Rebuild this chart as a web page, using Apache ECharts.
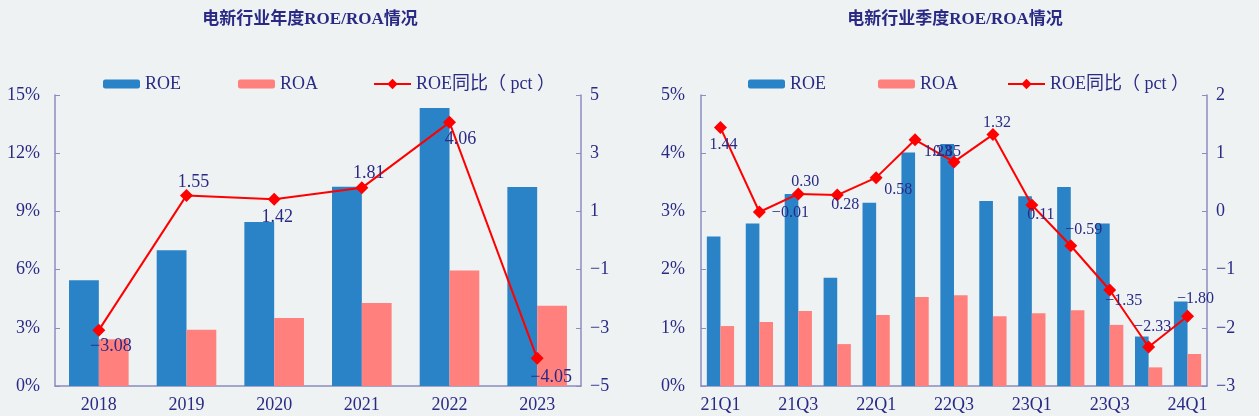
<!DOCTYPE html>
<html>
<head>
<meta charset="utf-8">
<script src="https://cdn.jsdelivr.net/npm/echarts@6/dist/echarts.min.js"></script>
<style>
html,body{margin:0;padding:0;background:#eef2f3;}
#c{width:1259px;height:416px;}
</style>
</head>
<body>
<div id="c"></div>
<script>
// ---- data ----
const years = ['2018', '2019', '2020', '2021', '2022', '2023'];
const annualROE = [5.45, 7.00, 8.45, 10.27, 14.33, 10.26];
const annualROA = [2.41, 2.90, 3.50, 4.28, 5.95, 4.14];
const annualYoY = [-3.08, 1.55, 1.42, 1.81, 4.06, -4.05];

const quarters = ['21Q1', '21Q2', '21Q3', '21Q4', '22Q1', '22Q2', '22Q3', '22Q4', '23Q1', '23Q2', '23Q3', '23Q4', '24Q1'];
const quarterROE = [2.57, 2.79, 3.30, 1.86, 3.15, 4.01, 4.16, 3.18, 3.26, 3.42, 2.79, 0.85, 1.45];
const quarterROA = [1.03, 1.10, 1.29, 0.72, 1.22, 1.53, 1.56, 1.20, 1.25, 1.30, 1.05, 0.32, 0.55];
const quarterYoY = [1.44, -0.01, 0.30, 0.28, 0.58, 1.23, 0.85, 1.32, 0.11, -0.59, -1.35, -2.33, -1.80];

const seriesNames = ['ROE', 'ROA', 'ROE同比（ pct ）'];
const titles = ['电新行业年度ROE/ROA情况', '电新行业季度ROE/ROA情况'];

// ---- label placement (style, not data) ----
const annualLabelOffsets = [[12, 16], [7, -13], [3, 18], [7, -15], [11, 17], [14, 19]];
const quarterLabelOffsets = [[3, 17], [31, 1], [7, -12], [8, 10], [22, 12], [23, 12], [-7, -10], [4, -12], [9, 10], [13, -16], [14, 11], [4, -20], [8, -17]];

// ---- styles ----
const navy = '#2a2a85';
const axisColor = '#8c8cc0';
const blue = '#2a82c7';
const salmon = '#ff807c';
const red = '#ff0000';
const serif = '"Liberation Serif", "Times New Roman", "Noto Sans CJK SC", serif';
const fmtMinus = v => String(v).replace('-', '\u2212');

function yAxis(grid, min, max, interval, pct, side, margin) {
  return {
    type: 'value', gridIndex: grid, min: min, max: max, interval: interval, position: side,
    axisLine: { show: true, lineStyle: { color: axisColor, width: 1.5 } },
    axisTick: { show: true, inside: true, length: 5, lineStyle: { color: axisColor } },
    splitLine: { show: false },
    axisLabel: {
      color: navy, fontSize: 18, fontFamily: serif, margin: margin,
      formatter: v => fmtMinus(v) + (pct ? '%' : '')
    }
  };
}

function xAxis(grid, data, interval) {
  return {
    type: 'category', gridIndex: grid, data: data,
    axisLine: { show: true, lineStyle: { color: axisColor, width: 1.5 } },
    axisTick: { show: false },
    axisLabel: { color: navy, fontSize: 18, fontFamily: serif, margin: 10, interval: interval }
  };
}

function lineSeries(xi, yi, values, offsets, fontSize) {
  return {
    name: seriesNames[2], type: 'line', xAxisIndex: xi, yAxisIndex: yi,
    symbol: 'diamond', symbolSize: 13, z: 5,
    lineStyle: { color: red, width: 2 },
    itemStyle: { color: red },
    label: {
      show: true, color: navy, fontSize: fontSize, fontFamily: serif,
      formatter: p => fmtMinus(p.value.toFixed(2))
    },
    data: values.map((v, i) => ({ value: v, label: { position: 'inside', offset: offsets[i] } }))
  };
}

function barSeries(name, xi, yi, values, color, catGap) {
  return {
    name: name, type: 'bar', xAxisIndex: xi, yAxisIndex: yi,
    barGap: '0%', barCategoryGap: catGap,
    itemStyle: { color: color },
    data: values
  };
}

function legend(left, gap, names, h) {
  return {
    left: left, top: 70, itemWidth: 37, itemHeight: h, itemGap: gap,
    data: names,
    textStyle: { color: navy, fontSize: 18, fontFamily: serif }
  };
}

const titleFont = 'bold 17px "Liberation Serif", "Noto Sans CJK SC", serif';

const option = {
  backgroundColor: '#eef2f3',
  animation: false,
  graphic: [
    { type: 'text', x: 310, y: 20, style: { text: titles[0], fill: navy, font: titleFont, textAlign: 'center', textVerticalAlign: 'middle', align: 'center', verticalAlign: 'middle' } },
    { type: 'text', x: 955, y: 20, style: { text: titles[1], fill: navy, font: titleFont, textAlign: 'center', textVerticalAlign: 'middle', align: 'center', verticalAlign: 'middle' } }
  ],
  legend: [
    legend(98, 57, [seriesNames[0], seriesNames[1]], 9),
    legend(368, 10, [seriesNames[2]], 13),
    legend(743, 52, [seriesNames[0], seriesNames[1]], 9),
    legend(1002, 10, [seriesNames[2]], 13)
  ],
  grid: [
    { left: 55, top: 95, width: 526, height: 291 },
    { left: 701, top: 95, width: 506, height: 291 }
  ],
  xAxis: [xAxis(0, years, 0), xAxis(1, quarters, 1)],
  yAxis: [
    yAxis(0, 0, 15, 3, true, 'left', 15),
    yAxis(0, -5, 5, 2, false, 'right', 9),
    yAxis(1, 0, 5, 1, true, 'left', 16),
    yAxis(1, -3, 2, 1, false, 'right', 9)
  ],
  series: [
    barSeries(seriesNames[0], 0, 0, annualROE, blue, '32%'),
    barSeries(seriesNames[1], 0, 0, annualROA, salmon, '32%'),
    lineSeries(0, 1, annualYoY, annualLabelOffsets, 18),
    barSeries(seriesNames[0], 1, 2, quarterROE, blue, '30%'),
    barSeries(seriesNames[1], 1, 2, quarterROA, salmon, '30%'),
    lineSeries(1, 3, quarterYoY, quarterLabelOffsets, 16)
  ]
};

const chart = echarts.init(document.getElementById('c'), null, { renderer: 'canvas' });
chart.setOption(option);
</script>
</body>
</html>
